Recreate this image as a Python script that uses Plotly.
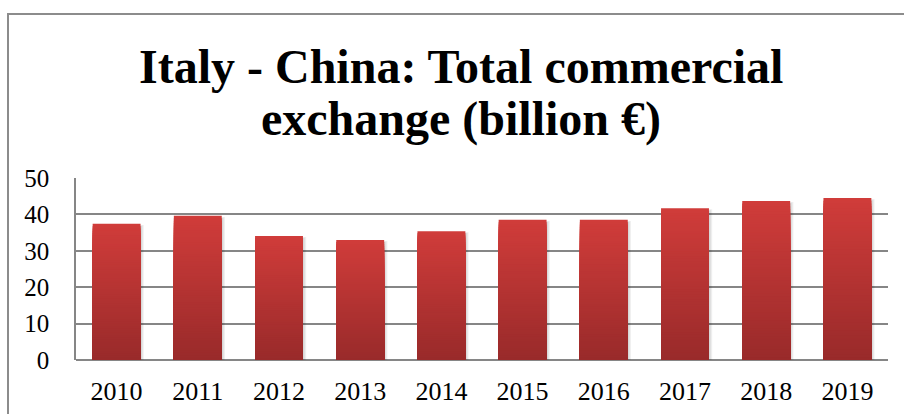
import plotly.graph_objects as go

years = ["2010", "2011", "2012", "2013", "2014", "2015", "2016", "2017", "2018", "2019"]
exchange = [37.4, 39.6, 34.1, 33.0, 35.4, 38.5, 38.5, 41.7, 43.7, 44.5]
y_ticks = [0, 10, 20, 30, 40, 50]
title_lines = ["Italy - China: Total commercial", "exchange (billion €)"]

W, H = 904, 414
L, R, T, B = 76, 16, 178, 54
plot_w, plot_h = W - L - R, H - T - B

top_rgb = (208, 60, 58)
bottom_rgb = (152, 42, 42)
n_steps = 60
bar_w = 0.59
serif = "Liberation Serif, Times New Roman, serif"

fig = go.Figure()

# soft drop shadow behind each bar
for k, alpha in enumerate([0.05, 0.05, 0.06]):
    fig.add_trace(go.Bar(
        x=years, y=exchange, width=bar_w + 0.012 * (k + 1),
        offset=-bar_w / 2 + 0.004, base=[-0.6 + 0.15 * k] * len(years),
        marker=dict(color=f"rgba(0,0,0,{alpha})", line=dict(width=0)),
        hoverinfo="skip", showlegend=False,
    ))

# vertical gradient: full-height bar first, then progressively shorter
# bars in darker tones painted over its lower part
for i in range(n_steps):
    f = 1 - i / n_steps
    c = tuple(round(bottom_rgb[j] + (top_rgb[j] - bottom_rgb[j]) * f) for j in range(3))
    fig.add_trace(go.Bar(
        x=years, y=[v * f for v in exchange],
        width=bar_w,
        marker=dict(color=f"rgb{c}", line=dict(width=0)),
        hoverinfo="skip", showlegend=False,
    ))

def px(x):
    return (x - L) / plot_w

def py(y):
    return (H - B - y) / plot_h

fig.add_shape(type="rect", xref="paper", yref="paper",
              x0=px(8), x1=px(930), y0=py(14), y1=py(440),
              line=dict(color="#8c8c8c", width=2), fillcolor="rgba(0,0,0,0)", layer="below")

for text, ymid in zip(title_lines, [67, 119]):
    fig.add_annotation(
        text=f"<b>{text}</b>", xref="paper", yref="paper",
        x=px(461), y=py(ymid), xanchor="center", yanchor="middle",
        showarrow=False, font=dict(size=48, family=serif, color="black"),
    )

fig.update_layout(
    width=W, height=H,
    margin=dict(l=L, r=R, t=T, b=B),
    barmode="overlay",
    plot_bgcolor="white", paper_bgcolor="white",
    font=dict(family=serif, color="black"),
    xaxis=dict(
        showgrid=False, showline=False, ticks="", automargin=False,
        tickfont=dict(size=26), ticklabelstandoff=13,
    ),
    yaxis=dict(
        range=[0, 50], tickvals=y_ticks, showgrid=True, gridcolor="#868686", gridwidth=1.5,
        showline=True, linecolor="#868686", linewidth=1.5, automargin=False,
        zeroline=True, zerolinecolor="#868686", zerolinewidth=1.5,
        ticks="", tickfont=dict(size=25), ticklabelstandoff=20,
    ),
)

fig.write_html("out.html")
